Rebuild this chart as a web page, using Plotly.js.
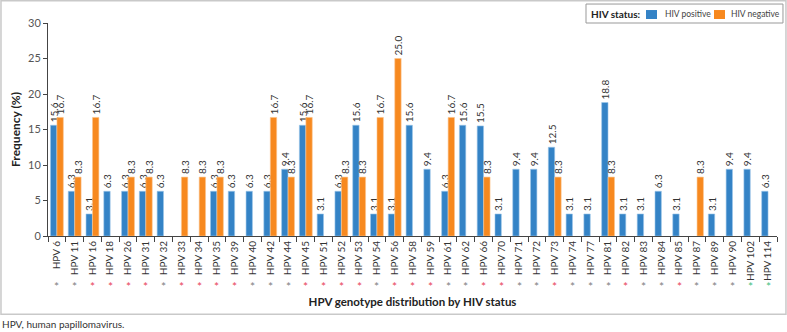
<!DOCTYPE html>
<html>
<head>
<meta charset="utf-8">
<script src="https://cdn.plot.ly/plotly-3.0.1.min.js"></script>
<style>html,body{margin:0;padding:0;background:#fff;}#chart{width:787px;height:332px;}</style>
</head>
<body>
<div id="chart"></div>
<script>
var genotypes = ["HPV 6","HPV 11","HPV 16","HPV 18","HPV 26","HPV 31","HPV 32","HPV 33","HPV 34","HPV 35","HPV 39","HPV 40","HPV 42","HPV 44","HPV 45","HPV 51","HPV 52","HPV 53","HPV 54","HPV 56","HPV 58","HPV 59","HPV 61","HPV 62","HPV 66","HPV 70","HPV 71","HPV 72","HPV 73","HPV 74","HPV 77","HPV 81","HPV 82","HPV 83","HPV 84","HPV 85","HPV 87","HPV 89","HPV 90","HPV 102","HPV 114"];
var hivPositive = [15.6,6.3,3.1,6.3,6.3,6.3,6.3,null,null,6.3,6.3,6.3,6.3,9.4,15.6,3.1,6.3,15.6,3.1,3.1,15.6,9.4,6.3,15.6,15.5,3.1,9.4,9.4,12.5,3.1,3.1,18.8,3.1,3.1,6.3,3.1,null,3.1,9.4,9.4,6.3];
var hivNegative = [16.7,8.3,16.7,null,8.3,8.3,null,8.3,8.3,8.3,null,null,16.7,8.3,16.7,null,8.3,8.3,16.7,25.0,null,null,16.7,null,8.3,null,null,null,8.3,null,null,8.3,null,null,null,null,8.3,null,null,null,null];
// asterisk category per genotype: g = grey, r = red, t = green
var markType = ["g","g","r","r","r","r","g","r","r","r","r","g","g","g","r","r","r","r","g","r","r","r","g","g","r","r","g","g","r","g","g","g","r","g","g","r","g","g","g","t","t"];
var seriesNames = ["HIV positive","HIV negative"];
var seriesColors = ["#3483c6","#f7891f"];
var markColors = {g:"#7f7f7f", r:"#e8455a", t:"#3fbf7f"};

var font = "Lato, 'Open Sans', sans-serif";
var traces = [
  {type:"bar", name:seriesNames[0], x:genotypes, y:hivPositive, showlegend:false,
   marker:{color:seriesColors[0], line:{color:"#9cc6ea", width:0.6}},
   texttemplate:"%{y:.1f}", textposition:"outside", textangle:-90, constraintext:"none", cliponaxis:false,
   textfont:{family:font, size:10, color:"#333"}, hoverinfo:"x+y"},
  {type:"bar", name:seriesNames[1], x:genotypes, y:hivNegative, showlegend:false,
   marker:{color:seriesColors[1], line:{color:"#fbc48e", width:0.6}},
   texttemplate:"%{y:.1f}", textposition:"outside", textangle:-90, constraintext:"none", cliponaxis:false,
   textfont:{family:font, size:10, color:"#333"}, hoverinfo:"x+y"}
];

var annotations = genotypes.map(function(g, i){
  return {x:i, xref:"x", y:-0.235, yref:"paper", text:"*", showarrow:false,
          font:{family:font, size:12, color:markColors[markType[i]]}, xanchor:"center", yanchor:"middle"};
});
annotations.push({x:-0.0658, xref:"paper", xanchor:"left", y:-0.414, yref:"paper", yanchor:"middle",
  text:"HPV, human papillomavirus.", showarrow:false, font:{family:font, size:10, color:"#333"}});
// legend (manual, compact like the reference)
annotations.push({x:0.742, xref:"paper", xanchor:"left", y:1.042, yref:"paper", yanchor:"middle",
  text:"<b>HIV status:</b>", showarrow:false, font:{family:font, size:10, color:"#222"}});
annotations.push({x:0.8436, xref:"paper", xanchor:"left", y:1.042, yref:"paper", yanchor:"middle",
  text:seriesNames[0], showarrow:false, font:{family:font, size:8.5, color:"#444"}});
annotations.push({x:0.9342, xref:"paper", xanchor:"left", y:1.042, yref:"paper", yanchor:"middle",
  text:seriesNames[1], showarrow:false, font:{family:font, size:8.5, color:"#444"}});

var layout = {
  width:787, height:332,
  margin:{l:48, r:10, t:23, b:95.5, pad:0},
  paper_bgcolor:"#fff", plot_bgcolor:"#fff",
  font:{family:font, color:"#333"},
  barmode:"group", bargap:0.27, bargroupgap:0.02,
  showlegend:false,
  xaxis:{type:"category", range:[-0.5, genotypes.length-0.5], tickson:"boundaries", ticks:"outside", ticklen:5, tickcolor:"#444",
    showline:true, linecolor:"#444", linewidth:1, showgrid:false, tickangle:-90,
    tickfont:{family:font, size:10, color:"#333"}, automargin:false,
    title:{text:"<b>HPV genotype distribution by HIV status</b>", font:{family:font, size:11.5, color:"#222"}, standoff:18}},
  yaxis:{range:[0,30], dtick:5, ticks:"outside", ticklen:4, tickcolor:"#444",
    showline:true, linecolor:"#444", linewidth:1, showgrid:false, zeroline:false,
    tickfont:{family:font, size:11, color:"#555"}, automargin:false,
    title:{text:"<b>Frequency (%)</b>", font:{family:font, size:12, color:"#222"}, standoff:4}},
  annotations:annotations,
  shapes:[
    {type:"rect", xref:"paper", yref:"paper", x0:-0.0645, x1:1.0123, y0:-0.3677, y1:1.105,
     line:{color:"#c9c9c9", width:1.5}, fillcolor:"rgba(0,0,0,0)", layer:"below"},
    {type:"rect", xref:"paper", yref:"paper", x0:0.738, x1:1.0082, y0:1.0, y1:1.089,
     line:{color:"#999", width:1}, fillcolor:"#fff"},
    {type:"rect", xref:"paper", yref:"paper", x0:0.8203, x1:0.8354, y0:1.0187, y1:1.0609,
     line:{width:0}, fillcolor:seriesColors[0]},
    {type:"rect", xref:"paper", yref:"paper", x0:0.9136, x1:0.9287, y0:1.0187, y1:1.0609,
     line:{width:0}, fillcolor:seriesColors[1]}
  ]
};

Plotly.newPlot("chart", traces, layout, {displayModeBar:false, staticPlot:true});
</script>
</body>
</html>
